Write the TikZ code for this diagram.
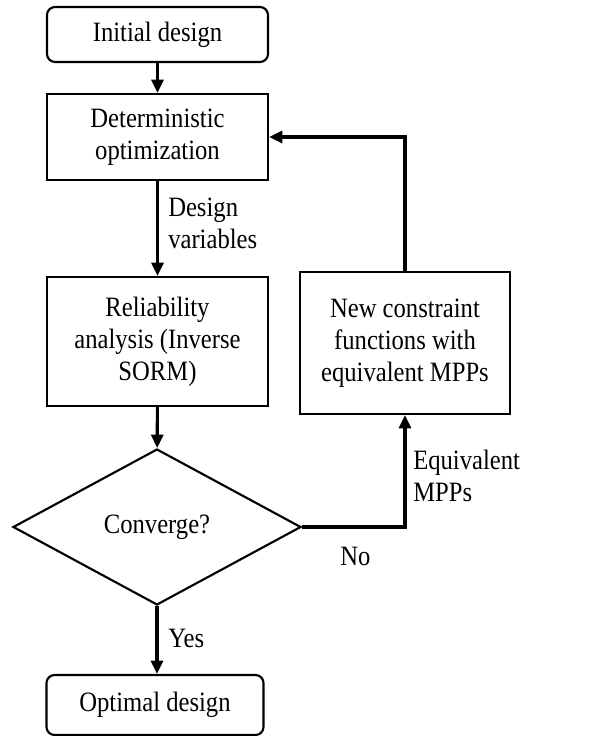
\documentclass[tikz,border=0pt]{standalone}
\usepackage{fontspec}
\setmainfont{Liberation Serif}[FakeStretch=0.88]
\usetikzlibrary{arrows.meta,positioning,shapes.geometric}

\begin{document}
\begin{tikzpicture}[
  x=0.75pt, y=-0.75pt,
  base/.style = {draw, line width=1.6pt, align=center, inner sep=0pt, font=\fontsize{21}{24}\selectfont},
  term/.style = {base, rounded corners=6pt},
  proc/.style = {base},
  cond/.style = {base, diamond},
  lbl/.style = {align=left, inner sep=0pt, anchor=west, font=\fontsize{21}{24}\selectfont},
  arr/.style = {-{Triangle[length=10pt,width=9pt]}, line width=2.3pt}
]
\useasboundingbox (0,0) rectangle (605,736);

\node[term, minimum width=165.75pt, minimum height=41.25pt] (init) at (157.5,34.5) {Initial design};
\node[proc, minimum width=165.75pt, minimum height=64.5pt] (det) at (157.5,137) {Deterministic\\optimization};
\node[proc, minimum width=165.75pt, minimum height=96.75pt] (rel) at (157.5,341.5) {Reliability\\analysis (Inverse\\SORM)};
\node[cond, minimum width=216pt, minimum height=117pt] (conv) at (157,527) {Converge?};
\node[term, minimum width=162.75pt, minimum height=45pt] (opt) at (155,705) {Optimal design};
\node[proc, minimum width=157.5pt, minimum height=106.5pt] (newc) at (405,343) {New constraint\\functions with\\equivalent MPPs};

\node[lbl] (dvar) at (168,223) {Design\\variables};
\node[lbl] (yes) at (168,638) {Yes};
\node[lbl] (no) at (340,556) {No};
\node[lbl] (empp) at (413,476) {Equivalent\\MPPs};

\draw[arr] (init) -- (det);
\draw[arr] (det) -- (rel);
\draw[arr] (rel) -- (conv);
\draw[arr] (conv.south) -- (conv.south |- opt.north);
\draw[arr] (conv.east) -| (newc.south);
\draw[arr] (newc.north) |- (det.east);
\end{tikzpicture}
\end{document}
